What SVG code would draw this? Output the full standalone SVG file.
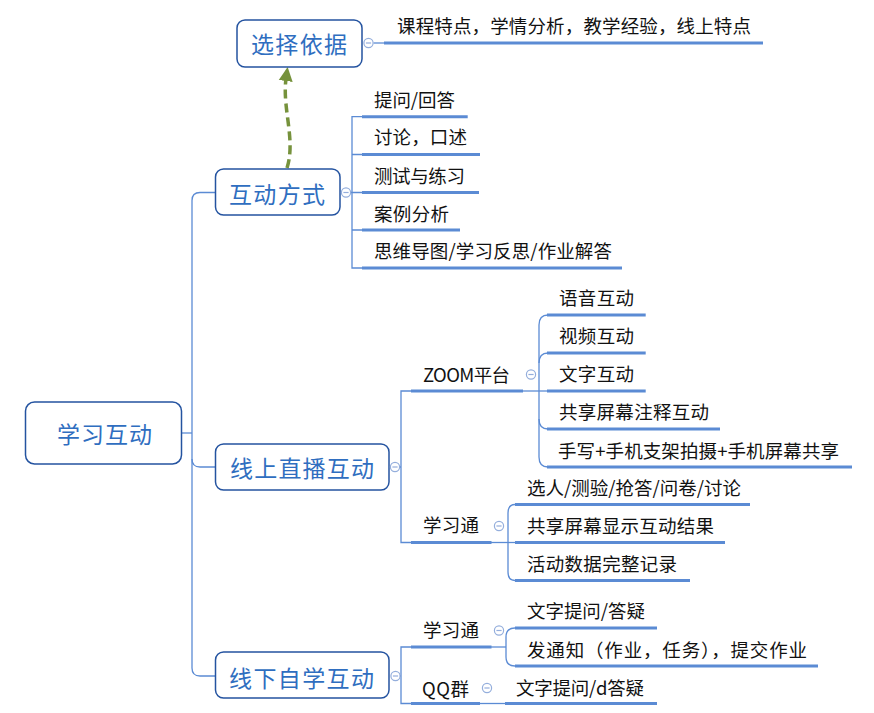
<svg xmlns="http://www.w3.org/2000/svg" width="874" height="713" viewBox="0 0 874 713">
<style>
.box{fill:#fff;stroke:#2453A0;stroke-width:1.5}
.nt{font-family:"Noto Sans CJK SC","Microsoft YaHei",sans-serif;font-size:23px;fill:#2F6EC0;dominant-baseline:central}
.ct{font-family:"Noto Sans CJK SC","Microsoft YaHei",sans-serif;font-size:18.5px;fill:#111;dominant-baseline:central}
.ul{stroke:#5B8BD4;stroke-width:3;fill:none}
.ln{stroke:#5B8BD4;stroke-width:1.3;fill:none}
.col{fill:#fff;stroke:#94AEDC;stroke-width:1.2}
.minus{stroke:#94AEDC;stroke-width:1.2}
.arr{stroke:#76923C;stroke-width:3.5;fill:none;stroke-dasharray:9 5}
</style>
<defs>
<marker id="ah" markerUnits="userSpaceOnUse" markerWidth="16" markerHeight="16" viewBox="0 0 16 16" refX="2" refY="8" orient="auto">
<path d="M0,1 L14,8 L0,15 z" fill="#76923C"/>
</marker>
<g id="c">
<circle class="col" cx="0" cy="0" r="4.6"/>
<line class="minus" x1="-2.6" y1="0" x2="2.6" y2="0"/>
</g>
</defs>
<rect width="874" height="713" fill="#fff"/>
<g id="connectors">
<path class="ln" d="M215.5 192.5 L200 192.5 Q192 192.5 192 200.5 L192 668 Q192 676 200 676 L215.5 676"/>
<path class="ln" d="M182 433 L192 433"/>
<path class="ln" d="M192 459 Q192 467 200 467 L215.5 467"/>
<path class="ln" d="M373.5 43 L385 43"/>
<path class="ln" d="M362 116.7 L352 116.7 L352 268 L362 268"/>
<path class="ln" d="M352 154.5 L362 154.5 M351 192.5 L362 192.5 M352 230 L362 230"/>
<path class="ln" d="M399.5 467 L401 467 M411 391 L401 391 L401 542.5 L411 542.5"/>
<path class="ln" d="M523 391 L548 391"/>
<path class="ln" d="M548 315 Q539 315 539 325 L539 457 Q539 467 548 467"/>
<path class="ln" d="M539 363 Q539 353 548 353 M539 419 Q539 429 548 429"/>
<path class="ln" d="M491 542.5 L515 542.5"/>
<path class="ln" d="M515 504.5 Q508 504.5 508 513 L508 572 Q508 580.5 515 580.5"/>
<path class="ln" d="M400 676 L401 676 M411 647 L401 647 L401 703.5 L411 703.5"/>
<path class="ln" d="M491 647 L506 647"/>
<path class="ln" d="M515 628 Q506 628 506 637 L506 657 Q506 666 515 666"/>
<path class="ln" d="M480 703.5 L505 703.5"/>
<path class="arr" d="M287 168 C296 140 282 108 286 79" marker-end="url(#ah)"/>
</g>
<g id="root">
<rect class="box" x="25.5" y="402" width="156" height="62" rx="9"/>
<text class="nt" x="57" y="433" textLength="95">学习互动</text>
</g>
<g id="xuanze">
<rect class="box" x="237" y="20" width="125" height="47" rx="8"/>
<text class="nt" x="251" y="43" textLength="96">选择依据</text>
<use href="#c" x="368.5" y="43"/>
</g>
<g id="xuanze-1">
<text class="ct" x="397" y="25" textLength="354">课程特点，学情分析，教学经验，线上特点</text>
<line class="ul" x1="384" y1="43" x2="763" y2="43"/>
</g>
<g id="hudong">
<rect class="box" x="215.5" y="169" width="124.5" height="46" rx="8"/>
<text class="nt" x="229" y="193" textLength="96">互动方式</text>
<use href="#c" x="346" y="192.5"/>
</g>
<g id="hudong-1"><text class="ct" x="374" y="99" textLength="81">提问/回答</text><line class="ul" x1="362" y1="116.7" x2="467.7" y2="116.7"/></g>
<g id="hudong-2"><text class="ct" x="374" y="136" textLength="93">讨论，口述</text><line class="ul" x1="362" y1="154.5" x2="480" y2="154.5"/></g>
<g id="hudong-3"><text class="ct" x="374" y="175" textLength="91">测试与练习</text><line class="ul" x1="362" y1="192.5" x2="479" y2="192.5"/></g>
<g id="hudong-4"><text class="ct" x="374" y="213" textLength="75">案例分析</text><line class="ul" x1="362" y1="230" x2="460" y2="230"/></g>
<g id="hudong-5"><text class="ct" x="374" y="250" textLength="238">思维导图/学习反思/作业解答</text><line class="ul" x1="362" y1="268" x2="622" y2="268"/></g>
<g id="online">
<rect class="box" x="215.5" y="444" width="173.5" height="46" rx="8"/>
<text class="nt" x="230" y="467" textLength="144">线上直播互动</text>
<use href="#c" x="395" y="467"/>
</g>
<g id="zoom">
<text class="ct" x="423" y="374" textLength="87">ZOOM平台</text>
<line class="ul" x1="411" y1="391" x2="523" y2="391"/>
<use href="#c" x="531" y="374.5"/>
</g>
<g id="zoom-1"><text class="ct" x="559" y="297" textLength="75">语音互动</text><line class="ul" x1="547" y1="315" x2="645.7" y2="315"/></g>
<g id="zoom-2"><text class="ct" x="559" y="335" textLength="75">视频互动</text><line class="ul" x1="547" y1="353" x2="645.7" y2="353"/></g>
<g id="zoom-3"><text class="ct" x="559" y="373" textLength="75">文字互动</text><line class="ul" x1="547" y1="391" x2="645.7" y2="391"/></g>
<g id="zoom-4"><text class="ct" x="559" y="411" textLength="150">共享屏幕注释互动</text><line class="ul" x1="547" y1="429" x2="720" y2="429"/></g>
<g id="zoom-5"><text class="ct" x="558" y="450" textLength="281">手写+手机支架拍摄+手机屏幕共享</text><line class="ul" x1="547" y1="467" x2="852" y2="467"/></g>
<g id="xxt1">
<text class="ct" x="423" y="524" textLength="56">学习通</text>
<line class="ul" x1="411" y1="542.5" x2="491.5" y2="542.5"/>
<use href="#c" x="499" y="526"/>
</g>
<g id="xxt1-1"><text class="ct" x="527" y="487" textLength="214">选人/测验/抢答/问卷/讨论</text><line class="ul" x1="515" y1="504.5" x2="750" y2="504.5"/></g>
<g id="xxt1-2"><text class="ct" x="527" y="525" textLength="187">共享屏幕显示互动结果</text><line class="ul" x1="515" y1="542.5" x2="725" y2="542.5"/></g>
<g id="xxt1-3"><text class="ct" x="527" y="563" textLength="150">活动数据完整记录</text><line class="ul" x1="515" y1="580.5" x2="690" y2="580.5"/></g>
<g id="offline">
<rect class="box" x="215.5" y="652" width="173.5" height="46" rx="8"/>
<text class="nt" x="229" y="677" textLength="145">线下自学互动</text>
<use href="#c" x="395.5" y="676"/>
</g>
<g id="xxt2">
<text class="ct" x="423" y="629" textLength="56">学习通</text>
<line class="ul" x1="411" y1="647" x2="491.5" y2="647"/>
<use href="#c" x="499" y="630.5"/>
</g>
<g id="xxt2-1"><text class="ct" x="527" y="610" textLength="118">文字提问/答疑</text><line class="ul" x1="515" y1="628" x2="657" y2="628"/></g>
<g id="xxt2-2"><text class="ct" x="527" y="649" textLength="280">发通知（作业，任务），提交作业</text><line class="ul" x1="515" y1="666" x2="818" y2="666"/></g>
<g id="qq">
<text class="ct" x="422" y="688" textLength="47">QQ群</text>
<line class="ul" x1="411" y1="703.5" x2="480" y2="703.5"/>
<use href="#c" x="487" y="688"/>
</g>
<g id="qq-1"><text class="ct" x="516" y="687" textLength="128">文字提问/d答疑</text><line class="ul" x1="505" y1="703.5" x2="657" y2="703.5"/></g>
</svg>
